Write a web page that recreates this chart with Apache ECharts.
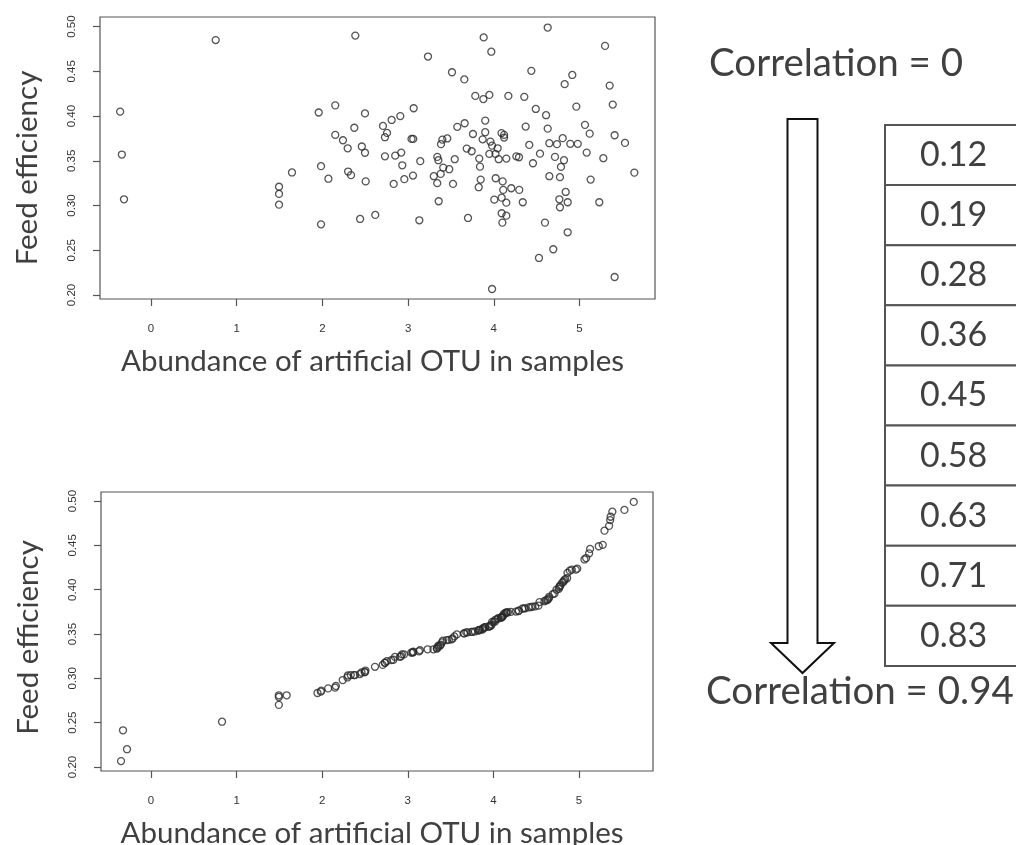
<!DOCTYPE html>
<html>
<head>
<meta charset="utf-8">
<script src="https://cdn.jsdelivr.net/npm/echarts@6/dist/echarts.min.js"></script>
<style>
html,body{margin:0;padding:0;background:#fff;}
#chart{width:1016px;height:845px;}
</style>
</head>
<body>
<div id="chart"></div>
<script>
// ---- data ----
const xTickValues = [0, 1, 2, 3, 4, 5];
const yTickValues = [0.20, 0.25, 0.30, 0.35, 0.40, 0.45, 0.50];
const xTitle = 'Abundance of artificial OTU in samples';
const yTitle = 'Feed efficiency';
const topLabel = 'Correlation = 0';
const bottomLabel = 'Correlation = 0.94';
const correlationSteps = ['0.12', '0.19', '0.28', '0.36', '0.45', '0.58', '0.63', '0.71', '0.83'];

// top panel: correlation = 0  [abundance, feed efficiency]
const topPoints = [
  [-0.36,0.405],[-0.34,0.357],[-0.315,0.307],[0.755,0.485],[2.384,0.490],[2.15,0.412],[1.957,0.404],[2.497,0.403],
  [2.372,0.387],[2.15,0.379],[2.24,0.373],[2.295,0.364],[2.46,0.366],[2.497,0.359],[1.984,0.344],[1.645,0.337],
  [2.30,0.338],[2.334,0.334],[2.07,0.330],[2.505,0.327],[1.494,0.321],[1.494,0.313],[1.494,0.301],[1.984,0.279],
  [2.44,0.285],[2.617,0.2895],
  [3.882,0.488],[4.629,0.499],[3.971,0.472],[5.298,0.4785],[3.232,0.4666],[3.512,0.449],[3.656,0.441],[4.438,0.4506],
  [4.916,0.446],[4.827,0.4357],[5.352,0.4341],[3.784,0.4226],[3.878,0.419],[3.948,0.4237],[4.17,0.4226],[4.356,0.4215],
  [4.49,0.408],[4.61,0.401],[4.963,0.4106],[5.388,0.4129],
  [3.065,0.4088],[2.707,0.389],[2.808,0.3957],[2.909,0.400],[2.754,0.3812],[2.73,0.3764],[3.04,0.3745],[3.06,0.3745],
  [3.40,0.3737],[3.457,0.375],[3.384,0.3686],[3.574,0.388],[3.66,0.392],[3.9,0.395],[3.9,0.382],[3.757,0.380],
  [3.87,0.374],[3.96,0.3715],[3.98,0.367],[4.09,0.381],[4.12,0.379],[4.12,0.376],
  [4.045,0.364],[4.02,0.3577],[3.948,0.3577],[4.057,0.3518],[4.146,0.3525],[4.263,0.355],[4.294,0.354],[3.684,0.3637],
  [3.742,0.3607],[3.83,0.3525],[3.839,0.3435],[3.847,0.329],[3.824,0.3205],[3.544,0.3518],[3.341,0.3544],[3.353,0.3507],
  [3.41,0.3424],[3.48,0.3406],[3.38,0.3354],[3.30,0.3328],[3.34,0.325],[3.524,0.3242],[3.357,0.3048],[3.699,0.2861],
  [3.142,0.3496],[2.932,0.345],[2.85,0.3558],[2.92,0.3592],[2.73,0.355],[2.832,0.3242],[2.956,0.3295],[3.057,0.3335],
  [3.131,0.2835],
  [4.022,0.3305],[4.103,0.327],[4.11,0.3175],[4.204,0.3193],[4.297,0.3175],[4.006,0.3066],[4.092,0.3088],[4.146,0.3032],
  [4.338,0.3037],[4.092,0.2914],[4.146,0.2887],[4.1,0.2809],[3.98,0.2067],
  [4.372,0.3883],[4.414,0.3678],[4.457,0.3473],[4.539,0.358],[4.629,0.386],[4.648,0.3697],[4.737,0.3686],[4.804,0.3753],
  [4.893,0.369],[4.98,0.369],[4.714,0.3544],[4.819,0.3507],[4.784,0.3432],[4.648,0.3328],[4.772,0.3317],[4.839,0.3152],
  [4.765,0.307],[4.772,0.2981],[4.862,0.3037],[4.597,0.2809],[4.862,0.2701],[4.527,0.2414],[4.694,0.2511],
  [5.064,0.3902],[5.119,0.3804],[5.084,0.3592],[5.278,0.3529],[5.13,0.329],[5.231,0.3037],[5.41,0.3786],[5.531,0.37],
  [5.64,0.3368],[5.41,0.2201]
];

// bottom panel: correlation = 0.94  [abundance, feed efficiency]
const bottomPoints = [
  [-0.35,0.2067],[-0.327,0.2414],[-0.28,0.2201],[0.83,0.2511],[1.494,0.2701],[1.494,0.279],[1.494,0.2809],[1.585,0.2809],
  [1.945,0.2835],[1.984,0.285],[1.99,0.2861],[2.07,0.2887],[2.15,0.2895],[2.16,0.2914],[2.24,0.2981],[2.295,0.301],
  [2.30,0.3032],[2.334,0.3037],[2.372,0.3037],[2.384,0.3037],[2.44,0.3048],[2.46,0.3066],[2.497,0.307],[2.50,0.307],
  [2.505,0.3088],[2.617,0.313],[2.707,0.3152],[2.73,0.3175],[2.735,0.3175],[2.754,0.3193],[2.808,0.3205],[2.832,0.321],
  [2.85,0.3242],[2.909,0.3242],[2.92,0.325],[2.932,0.327],[2.956,0.327],[3.04,0.329],[3.057,0.329],[3.06,0.3295],
  [3.065,0.330],[3.131,0.3305],[3.142,0.3317],[3.232,0.3328],[3.30,0.3328],[3.34,0.3335],[3.341,0.334],[3.353,0.3354],
  [3.357,0.3368],[3.38,0.337],[3.384,0.338],[3.40,0.3406],[3.41,0.3424],[3.457,0.3432],[3.48,0.3435],[3.512,0.344],
  [3.524,0.345],[3.544,0.3473],[3.574,0.3496],[3.656,0.3507],[3.66,0.3507],[3.684,0.3518],[3.699,0.3518],[3.742,0.3525],
  [3.757,0.3525],[3.784,0.3529],[3.824,0.354],[3.83,0.3544],[3.839,0.3544],[3.847,0.355],[3.87,0.355],[3.878,0.3558],
  [3.882,0.357],[3.9,0.3577],[3.905,0.3577],[3.948,0.358],[3.95,0.359],[3.96,0.3592],[3.971,0.3592],[3.98,0.3607],
  [3.985,0.3637],[4.006,0.364],[4.02,0.364],[4.022,0.366],[4.045,0.367],[4.057,0.3678],[4.09,0.3686],[4.092,0.3686],
  [4.095,0.369],[4.1,0.369],[4.103,0.3697],[4.11,0.37],[4.12,0.3715],[4.125,0.373],[4.146,0.3737],[4.15,0.374],
  [4.155,0.3745],[4.17,0.3745],[4.204,0.375],[4.263,0.3753],[4.294,0.376],[4.297,0.3764],[4.338,0.3786],[4.356,0.379],
  [4.372,0.379],[4.414,0.380],[4.438,0.3804],[4.457,0.381],[4.49,0.3812],[4.527,0.382],[4.539,0.386],[4.597,0.387],
  [4.61,0.388],[4.629,0.3883],[4.635,0.389],[4.648,0.3902],[4.652,0.392],[4.694,0.395],[4.714,0.3957],[4.737,0.400],
  [4.765,0.401],[4.772,0.403],[4.776,0.404],[4.784,0.405],[4.804,0.408],[4.819,0.4088],[4.827,0.4106],[4.839,0.412],
  [4.862,0.4129],[4.866,0.419],[4.893,0.4215],[4.916,0.4226],[4.963,0.4226],[4.98,0.4237],[5.064,0.4341],[5.084,0.4357],
  [5.119,0.441],[5.13,0.446],[5.231,0.449],[5.278,0.4506],[5.298,0.4666],[5.352,0.472],[5.365,0.4785],[5.37,0.4823],
  [5.39,0.488],[5.531,0.490],[5.64,0.499]
];

// ---- chart ----
const chart = echarts.init(document.getElementById('chart'), null, {renderer: 'canvas'});
const TXT = '#404040';
const AX = '#555';

function makeX(idx, min, max) {
  return {
    gridIndex: idx, type: 'value', min: min, max: max,
    axisLine: {show: false, onZero: false}, splitLine: {show: false},
    axisTick: {show: true, inside: false, length: 7, customValues: xTickValues, lineStyle: {color: AX, width: 1.2}},
    axisLabel: {customValues: xTickValues, margin: 24, fontSize: 11.5, color: '#333', fontFamily: 'Liberation Sans',
      formatter: v => String(v)},
    name: xTitle, nameLocation: 'middle', nameGap: 47,
    nameTextStyle: {fontFamily: 'Lato', fontSize: 29.5, color: TXT, padding: [0, 10, 0, 0]}
  };
}
function makeY(idx, min, max, shift) {
  return {
    gridIndex: idx, type: 'value', min: min, max: max,
    axisLine: {show: false, onZero: false}, splitLine: {show: false},
    axisTick: {show: true, inside: false, length: 7, customValues: yTickValues, lineStyle: {color: AX, width: 1.2}},
    axisLabel: {customValues: yTickValues, margin: 22, rotate: 90, fontSize: 11.5, color: '#333', fontFamily: 'Liberation Sans',
      formatter: v => v.toFixed(2)},
    name: yTitle, nameLocation: 'middle', nameGap: 58, nameRotate: 90,
    nameTextStyle: {fontFamily: 'Lato', fontSize: 29.5, color: TXT, padding: [0, shift, 0, 0]}
  };
}
const pointStyle = {color: 'rgba(0,0,0,0)', borderColor: '#2a2a2a', borderWidth: 1.3};

// table + arrow graphics built from the step values
const tableTop = 125, rowH = 60.1, tableLeft = 885;
const graphics = [];
correlationSteps.forEach((v, i) => {
  graphics.push({type: 'rect', silent: true,
    shape: {x: tableLeft, y: tableTop + i * rowH, width: 200, height: rowH},
    style: {fill: '#fff', stroke: '#555', lineWidth: 2}});
  graphics.push({type: 'text', silent: true, x: 920, y: tableTop + i * rowH + rowH / 2,
    style: {text: v, fontFamily: 'Lato', fontSize: 34, fill: TXT, textVerticalAlign: 'middle', verticalAlign: 'middle'}});
});
graphics.push({type: 'polygon', silent: true,
  shape: {points: [[787.5, 119], [817.5, 119], [817.5, 643], [834, 643], [802.5, 673], [771, 643], [787.5, 643]]},
  style: {fill: '#fff', stroke: '#111', lineWidth: 2}});
graphics.push({type: 'text', silent: true, x: 709, y: 64,
  style: {text: topLabel, fontFamily: 'Lato', fontSize: 38.5, fill: TXT, verticalAlign: 'middle', textVerticalAlign: 'middle'}});
graphics.push({type: 'text', silent: true, x: 706, y: 692,
  style: {text: bottomLabel, fontFamily: 'Lato', fontSize: 38.5, fill: TXT, verticalAlign: 'middle', textVerticalAlign: 'middle'}});

chart.setOption({
  animation: false,
  backgroundColor: '#fff',
  grid: [
    {left: 100, top: 17, width: 555, height: 282, show: true, borderColor: AX, borderWidth: 1.2, outerBoundsMode: 'none', containLabel: false},
    {left: 101, top: 492, width: 552, height: 279, show: true, borderColor: AX, borderWidth: 1.2, outerBoundsMode: 'none', containLabel: false}
  ],
  xAxis: [makeX(0, -0.595, 5.881), makeX(1, -0.584, 5.865)],
  yAxis: [makeY(0, 0.1955, 0.5108, 20), makeY(1, 0.1955, 0.5102, 12)],
  series: [
    {type: 'scatter', xAxisIndex: 0, yAxisIndex: 0, data: topPoints, symbol: 'circle', symbolSize: 7, itemStyle: pointStyle, silent: true},
    {type: 'scatter', xAxisIndex: 1, yAxisIndex: 1, data: bottomPoints, symbol: 'circle', symbolSize: 7, itemStyle: pointStyle, silent: true}
  ],
  graphic: graphics
});
</script>
</body>
</html>
